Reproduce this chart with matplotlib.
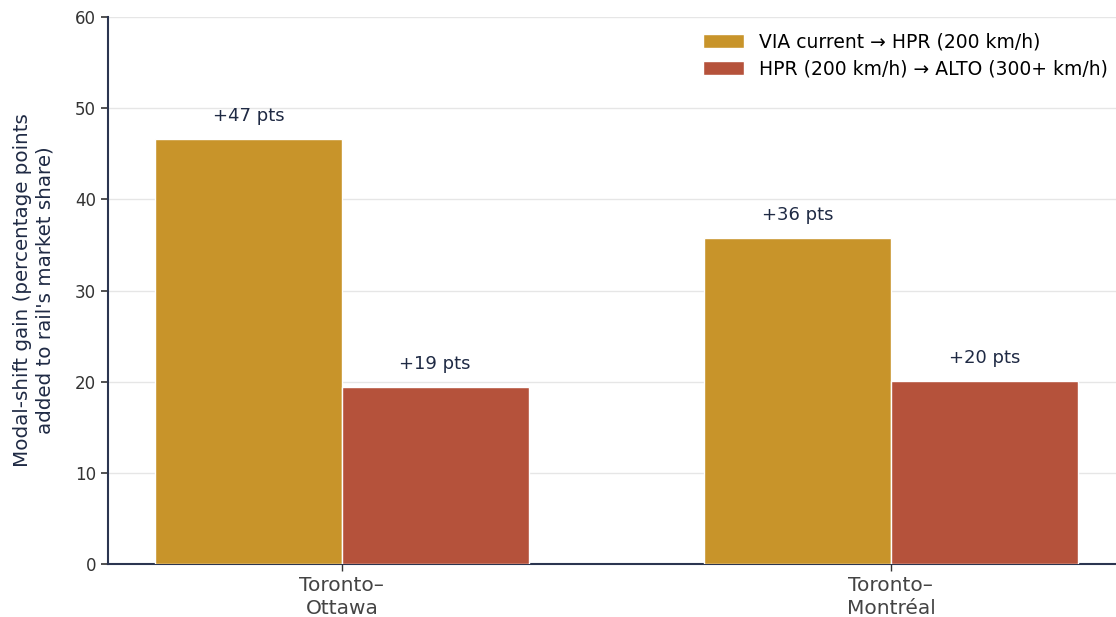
import numpy as np
import matplotlib
matplotlib.use("Agg")
import matplotlib.pyplot as plt

# corridor data
corridors = ["Toronto–\nOttawa", "Toronto–\nMontréal"]
series_names = ["VIA current → HPR (200 km/h)", "HPR (200 km/h) → ALTO (300+ km/h)"]
via_to_hpr = [46.6, 35.8]
hpr_to_alto = [19.4, 20.1]
y_ticks = [0, 10, 20, 30, 40, 50, 60]

gold = "#C8942A"
rust = "#B5523B"
navy = "#1F2A44"

fig = plt.figure(figsize=(11.16, 6.17), dpi=100)
ax = fig.add_axes([0.0968, 0.0859, 0.9032, 0.8865])

x = np.arange(len(corridors))
w = 0.34
b1 = ax.bar(x - w / 2, via_to_hpr, w, color=gold, edgecolor="white", linewidth=1,
            label=series_names[0], zorder=3)
b2 = ax.bar(x + w / 2, hpr_to_alto, w, color=rust, edgecolor="white", linewidth=1,
            label=series_names[1], zorder=3)

for bars, vals in [(b1, via_to_hpr), (b2, hpr_to_alto)]:
    for rect, v in zip(bars, vals):
        ax.annotate(f"+{v:.0f} pts", (rect.get_x() + rect.get_width() / 2, v),
                    xytext=(0, 10), textcoords="offset points",
                    ha="center", va="bottom", fontsize=13, color=navy)

ax.set_xlim(-0.426, 1.41)
ax.set_ylim(0, 60)
ax.set_yticks(y_ticks)
ax.set_xticks(x)
ax.set_xticklabels(corridors, fontsize=14.5, color="#444444", linespacing=1.3)
ax.tick_params(axis="y", labelsize=12, colors="#333333", length=5, width=1.2)
ax.tick_params(axis="x", length=5, width=1, color="#333333")
ax.set_ylabel("Modal-shift gain (percentage points\nadded to rail's market share)",
              fontsize=14.3, color=navy, labelpad=15)

ax.grid(axis="y", color="#E6E6E6", linewidth=1, zorder=0)
ax.spines["top"].set_visible(False)
ax.spines["right"].set_visible(False)
for s in ["left", "bottom"]:
    ax.spines[s].set_color("#2B3550")
    ax.spines[s].set_linewidth(1.5)

ax.legend(loc="upper right", frameon=False, fontsize=13.5,
          bbox_to_anchor=(1.009, 1.002), handlelength=2.2, handleheight=0.8,
          labelspacing=0.42)

fig.savefig("out.png", dpi=100)
